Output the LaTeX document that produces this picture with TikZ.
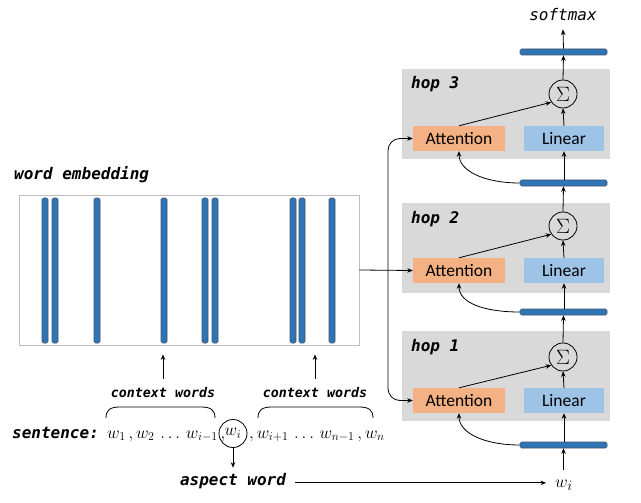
\documentclass[tikz,border=0pt]{standalone}
\usepackage{fontspec}
\usetikzlibrary{arrows.meta}
\newfontfamily\mono{DejaVu Sans Mono}[ItalicFont={* Oblique},BoldFont={* Bold},BoldItalicFont={* Bold Oblique}]
\newfontfamily\sansf{Carlito}
\definecolor{barblue}{HTML}{2E75B6}
\definecolor{bardark}{HTML}{44546A}
\definecolor{hopgray}{HTML}{D9D9D9}
\definecolor{attor}{HTML}{F4B183}
\definecolor{linbl}{HTML}{9DC3E6}
\definecolor{embgray}{HTML}{BFBFBF}
\begin{document}
\begin{tikzpicture}[x=1pt,y=-1pt,
 arr/.style={-{Stealth[length=5.5pt,width=4.5pt]}, line width=0.8pt},
 conn/.style={line width=0.8pt},
 hbar/.style={draw=bardark, fill=barblue, rounded corners=1.5pt, line width=0.6pt, minimum width=87pt, minimum height=6pt, inner sep=0pt},
 vbar/.style={draw=bardark, fill=barblue, rounded corners=1.5pt, line width=0.6pt, minimum width=6pt, minimum height=145pt, inner sep=0pt},
 hopbox/.style={fill=hopgray, minimum width=208pt, minimum height=90pt, inner sep=0pt},
 attbox/.style={fill=attor, minimum width=92pt, minimum height=25pt, inner sep=0pt, font=\sansf\fontsize{17.5}{17.5}\selectfont},
 linbox/.style={fill=linbl, minimum width=80pt, minimum height=25pt, inner sep=0pt, font=\sansf\fontsize{17.5}{17.5}\selectfont},
 sigm/.style={circle, draw, line width=0.8pt, minimum size=28pt, inner sep=0pt, font=\fontsize{20}{20}\selectfont},
 lbl/.style={font=\mono\bfseries\itshape\fontsize{16}{16}\selectfont, inner sep=0pt},
 lbls/.style={font=\mono\bfseries\itshape\fontsize{13.3}{13.3}\selectfont, inner sep=0pt},
 mth/.style={font=\fontsize{17}{17}\selectfont, inner sep=0pt},
]
\useasboundingbox (0,0) rectangle (641,503);

% hop boxes
\node[hopbox] (hop3) at (506,114) {};
\node[hopbox] (hop2) at (506,248) {};
\node[hopbox] (hop1) at (506,376) {};
\node[lbl, anchor=base west] (h3t) at (411,89) {hop 3};
\node[lbl, anchor=base west] (h2t) at (411,223) {hop 2};
\node[lbl, anchor=base west] (h1t) at (411,351) {hop 1};

% attention / linear
\node[attbox] (att3) at (459,138.5) {Attention};
\node[attbox] (att2) at (459,270.5) {Attention};
\node[attbox] (att1) at (459,400.5) {Attention};
\node[linbox] (lin3) at (564,138.5) {Linear};
\node[linbox] (lin2) at (564,270.5) {Linear};
\node[linbox] (lin1) at (564,400.5) {Linear};

% sigma
\node[sigm] (sig3) at (563,94) {$\Sigma$};
\node[sigm] (sig2) at (563,226) {$\Sigma$};
\node[sigm] (sig1) at (563,357) {$\Sigma$};

% bars
\node[hbar] (bt) at (563.5,52) {};
\node[hbar] (b3) at (563.5,183) {};
\node[hbar] (b2) at (563.5,312) {};
\node[hbar] (b1) at (563.5,445) {};

\node[font=\mono\itshape\fontsize{16}{16}\selectfont, inner sep=0pt, anchor=base] (soft) at (563,21) {softmax};

% vertical arrows on right
\draw[arr] (bt.north) -- ([yshift=-8pt]soft.south);
\draw[arr] (sig3.north) -- (bt.south);
\draw[arr] (sig2.north) -- (b3.south);
\draw[arr] (sig1.north) -- (b2.south);
\draw[arr] (b3.north -| lin3.south) -- (lin3.south);
\draw[arr] (b2.north -| lin2.south) -- (lin2.south);
\draw[arr] (b1.north -| lin1.south) -- (lin1.south);
\draw[arr] (lin3.north) -- (sig3.south);
\draw[arr] (lin2.north) -- (sig2.south);
\draw[arr] (lin1.north) -- (sig1.south);
\draw[arr] (att3.north) -- (sig3.215);
\draw[arr] (att2.north) -- (sig2.215);
\draw[arr] (att1.north) -- (sig1.215);
\draw[arr] (b3.west) .. controls +(-35,0) and +(0,20) .. (att3.south);
\draw[arr] (b2.west) .. controls +(-35,0) and +(0,20) .. (att2.south);
\draw[arr] (b1.west) .. controls +(-35,0) and +(0,20) .. (att1.south);

% word embedding
\node[lbl, anchor=base west] (wet) at (14,179) {word embedding};
\node[draw=embgray, line width=0.8pt, minimum width=340pt, minimum height=150pt, inner sep=0pt] (emb) at (189,270) {};
\foreach \i/\xx in {1/45,2/55,3/97,4/164,5/205,6/215,7/293,8/302,9/332}
  \node[vbar] (v\i) at (\xx,270.5) {};

% connections to attention
\coordinate (jn) at (388,270.5);
\draw[arr] (emb.east) -- (att2.west);
\draw[arr, rounded corners=12pt] (jn) |- (att3.west);
\draw[arr, rounded corners=12pt] (jn) |- (att1.west);

% context words
\node[lbls, anchor=base] (ctx1) at (163,397) {context words};
\node[lbls, anchor=base] (ctx2) at (315,397) {context words};
\draw[arr, shorten >=9pt] ([yshift=8pt]ctx1.north) -- (ctx1.north |- emb.south);
\draw[arr, shorten >=9pt] ([yshift=8pt]ctx2.north) -- (ctx2.north |- emb.south);

% braces
\draw[conn] (106,418) .. controls (106,410) and (110,407) .. (120,407) -- (201,407) .. controls (211,407) and (215,410) .. (215,418);
\draw[conn] (258,418) .. controls (258,410) and (262,407) .. (272,407) -- (359,407) .. controls (369,407) and (373,410) .. (373,418);

% sentence
\node[lbl, anchor=base west] (sent) at (12,438) {sentence:};
\node[mth, anchor=base west] (left) at (107,438) {$w_1\,,w_2\,\ldots\,w_{i-1}\,,$};
\node[circle, draw, line width=0.8pt, minimum size=28pt, inner sep=0pt, font=\fontsize{18}{18}\selectfont] (wi) at (233,433.5) {$w_i$};
\node[mth, anchor=base west] (right) at (249,438) {$,w_{i+1}\,\ldots\,w_{n-1}\,,w_n$};

\node[lbl, anchor=base] (asp) at (233,485) {aspect word};
\draw[arr] (wi.south) -- ([yshift=5pt]asp.north);

\node[font=\fontsize{19}{19}\selectfont, inner sep=0pt, anchor=base west] (wiR) at (555,487) {$w_i$};
\draw[arr] ([xshift=9pt]asp.mid east) -- ([xshift=-9pt]wiR.west |- asp.mid east);
\draw[arr] ([yshift=9pt]b1.south |- wiR.north) -- (b1.south);
\end{tikzpicture}
\end{document}
